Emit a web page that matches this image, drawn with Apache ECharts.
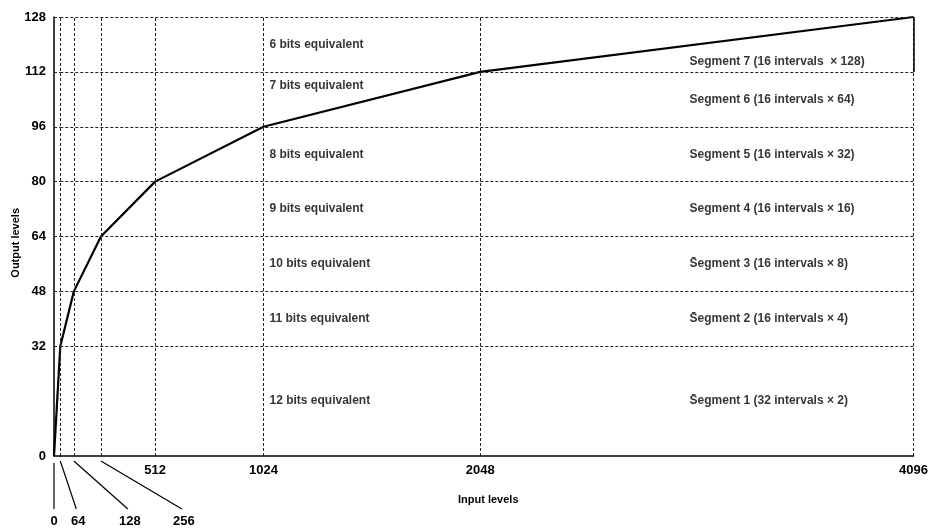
<!DOCTYPE html>
<html>
<head>
<meta charset="utf-8">
<script src="https://cdn.jsdelivr.net/npm/echarts@6/dist/echarts.min.js"></script>
<style>
  html, body { margin: 0; padding: 0; background: #fff; }
  #chart { width: 931px; height: 528px; }
</style>
</head>
<body>
<div id="chart"></div>
<script>
// Segmented companding curve: 13-bit input levels mapped to 7-bit output levels
const inputLevels = [0, 64, 128, 256, 512, 1024, 2048, 4096];
const outputLevels = [0, 32, 48, 64, 80, 96, 112, 128];

const yTickLabels = [0, 32, 48, 64, 80, 96, 112, 128];
const xMajorTickLabels = [512, 1024, 2048, 4096];
const xMinorTickLabels = [0, 64, 128, 256];

// one entry per output band, bottom to top
const bitsLabels = [
  '12 bits equivalent', '11 bits equivalent', '10 bits equivalent',
  '9 bits equivalent', '8 bits equivalent', '7 bits equivalent', '6 bits equivalent'
];
const segmentLabels = [
  'S\u0304egment 1 (32 intervals \u00d7 2)',
  'S\u0304egment 2 (16 intervals \u00d7 4)',
  'S\u0304egment 3 (16 intervals \u00d7 8)',
  'Segment 4 (16 intervals \u00d7 16)',
  'Segment 5 (16 intervals \u00d7 32)',
  'Segment 6 (16 intervals \u00d7 64)',
  'Segment 7 (16 intervals  \u00d7 128)'
];

// ---- layout / style ----
const FONT = '"Liberation Sans", Arial, Helvetica, sans-serif';
const INK = '#000';
const DASH = { type: [3, 2], width: 1, color: '#222' };
const TOP = 17, BOTTOM = 72;
// the first segment (0..64) is drawn compressed next to the vertical axis
const GRID_A = { left: 54, width: 6.3, top: TOP, bottom: BOTTOM };
const GRID_B = { left: 60.3, right: 16.7, top: TOP, bottom: BOTTOM };
// horizontal reach of the leader lines under the small input ticks
const LEADER_DX = { 0: 0, 64: 16, 128: 54, 256: 81 };
// per-band nudges (px) for labels that would touch the curve
const BITS_NUDGE = { 5: -14 };
const SEGMENT_NUDGE = { 6: 17 };

const curve = inputLevels.map((x, i) => [x, outputLevels[i]]);
const curveA = curve.filter(p => p[0] <= 64);
const curveB = curve.filter(p => p[0] >= 64);

const bandMid = i => (outputLevels[i] + outputLevels[i + 1]) / 2;

function leaderSeries(axisIndex, values) {
  return {
    type: 'custom',
    xAxisIndex: axisIndex, yAxisIndex: axisIndex,
    clip: false, silent: true, z: 6,
    data: values.map(v => [v, 0]),
    renderItem: (params, api) => {
      const v = api.value(0);
      const p = api.coord([v, 0]);
      const dx = LEADER_DX[v];
      const x1 = p[0], y1 = p[1] + (v === 0 ? 7 : 5);
      const x2 = p[0] + dx, y2 = p[1] + 53;
      return {
        type: 'group',
        children: [
          { type: 'line', shape: { x1, y1, x2, y2 },
            style: { stroke: INK, lineWidth: 1.2 } },
          { type: 'text',
            style: { text: String(v), x: x2 + (dx ? 2 : 0), y: y2 + 12,
                     align: 'center', verticalAlign: 'middle',
                     font: 'bold 13px ' + FONT, fill: INK } }
        ]
      };
    }
  };
}

const gridLineSeries = (axisIndex, withVerticals) => ({
  type: 'line', xAxisIndex: axisIndex, yAxisIndex: axisIndex,
  data: [], silent: true, z: 1,
  markLine: {
    silent: true, symbol: ['none', 'none'], label: { show: false },
    lineStyle: DASH, animation: false,
    data: [
      ...(withVerticals ? inputLevels.filter(v => v >= 64).map(v => ({ xAxis: v })) : []),
      ...outputLevels.filter(v => v > 0).map(v => ({ yAxis: v }))
    ]
  }
});

const curveStyle = { color: INK, width: 2.2 };
const annotationText = { color: INK, fontFamily: FONT, fontSize: 12, fontWeight: 'bold' };

const option = {
  animation: false,
  backgroundColor: '#fff',
  grid: [GRID_A, GRID_B],
  xAxis: [
    { gridIndex: 0, type: 'value', min: 0, max: 64,
      axisLine: { show: true, lineStyle: { color: INK, width: 1.5 } },
      axisTick: { show: false }, axisLabel: { show: false }, splitLine: { show: false } },
    { gridIndex: 1, type: 'value', min: 64, max: 4096,
      axisLine: { show: true, lineStyle: { color: INK, width: 1.5 } },
      axisTick: { show: false },
      axisLabel: { show: true, customValues: xMajorTickLabels, margin: 8,
                   formatter: v => String(v),
                   color: INK, fontFamily: FONT, fontWeight: 'bold', fontSize: 13 },
      splitLine: { show: false } }
  ],
  yAxis: [
    { gridIndex: 0, type: 'value', min: 0, max: 128, interval: 16,
      axisLine: { show: true, lineStyle: { color: INK, width: 1.5 } },
      axisTick: { show: false },
      axisLabel: { margin: 8, color: INK, fontFamily: FONT, fontWeight: 'bold', fontSize: 13,
                   formatter: v => (yTickLabels.includes(v) ? String(v) : '') },
      splitLine: { show: false } },
    { gridIndex: 1, type: 'value', min: 0, max: 128, interval: 16,
      axisLine: { show: false }, axisTick: { show: false },
      axisLabel: { show: false }, splitLine: { show: false } }
  ],
  graphic: [
    { type: 'text', left: 10, top: 208, rotation: Math.PI / 2,
      style: { text: 'Output levels', font: 'bold 11px ' + FONT, fill: INK } },
    { type: 'text', left: 458, top: 494,
      style: { text: 'Input levels', font: 'bold 11px ' + FONT, fill: INK } }
  ],
  series: [
    gridLineSeries(0, false),
    gridLineSeries(1, true),
    // solid closing edge beside the top band
    { type: 'line', xAxisIndex: 1, yAxisIndex: 1, data: [], silent: true, z: 2,
      markLine: { silent: true, symbol: ['none', 'none'], label: { show: false },
        lineStyle: { type: 'solid', width: 1.5, color: INK },
        data: [[{ coord: [4096, outputLevels[6]] }, { coord: [4096, outputLevels[7]] }]] } },
    { type: 'line', xAxisIndex: 0, yAxisIndex: 0, data: curveA, symbol: 'none',
      lineStyle: curveStyle, z: 4, clip: false },
    { type: 'line', xAxisIndex: 1, yAxisIndex: 1, data: curveB, symbol: 'none',
      lineStyle: curveStyle, z: 4, clip: false },
    // band annotations
    { type: 'scatter', xAxisIndex: 1, yAxisIndex: 1, symbolSize: 0, silent: true, z: 5,
      data: bitsLabels.map((t, i) => ({
        value: [1024, bandMid(i)],
        label: Object.assign({ show: true, formatter: t, position: 'right', distance: 6,
                 offset: [0, BITS_NUDGE[i] || 0] }, annotationText)
      })) },
    { type: 'scatter', xAxisIndex: 1, yAxisIndex: 1, symbolSize: 0, silent: true, z: 5,
      data: segmentLabels.map((t, i) => ({
        value: [4096, bandMid(i)],
        label: Object.assign({ show: true, formatter: t, position: 'left', align: 'left',
                 offset: [-224, SEGMENT_NUDGE[i] || 0], distance: 0 }, annotationText)
      })) },
    leaderSeries(0, xMinorTickLabels.filter(v => v < 64)),
    leaderSeries(1, xMinorTickLabels.filter(v => v >= 64))
  ]
};

const chart = echarts.init(document.getElementById('chart'), null, { renderer: 'canvas' });
chart.setOption(option);
</script>
</body>
</html>
